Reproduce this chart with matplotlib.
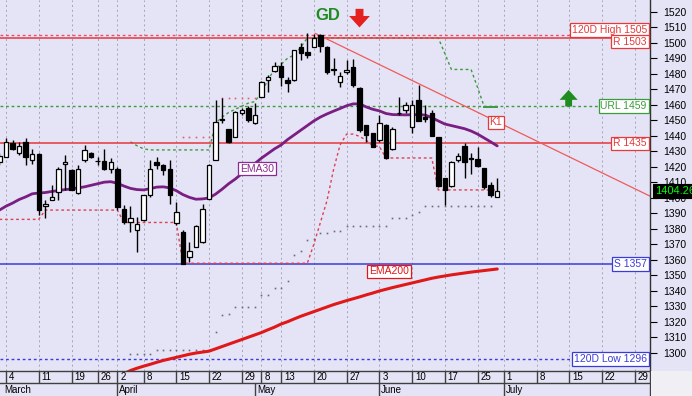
import matplotlib
matplotlib.use("Agg")
import matplotlib.pyplot as plt
import numpy as np
from matplotlib.transforms import blended_transform_factory
from matplotlib.patches import Rectangle

plt.rcParams['font.family'] = ['Liberation Sans', 'DejaVu Sans']

# ---------------- data ----------------
days = list(range(-1, 76))
opens = [1423, 1426.3, 1435, 1428.9, 1436, 1424.2, 1428.1, 1394.5, 1398.4, 1403.8,
         1421.7, 1417.7, 1402.7, 1424.2, 1428.5, 1423.8, 1423.6, 1418.2, 1418.4, 1393,
         1384.4, 1379.1, 1385.5, 1401.6, 1423.2, 1421, 1418.8, 1383.8, 1378, 1361.5,
         1368.4, 1371.5, 1399.4, 1424.2, 1450.2, 1444, 1439.2, 1454.5, 1457.7, 1447.9,
         1465.2, 1476, 1481.8, 1484.8, 1476, 1476, 1497.3, 1494, 1497.3, 1504.8,
         1497.3, 1482.9, 1474.7, 1481.1, 1484.4, 1471, 1446.7, 1441.4, 1437, 1446.7,
         1431.7, 1454.5, 1456.5, 1445.7, 1463, 1451.8, 1454.5, 1438.9, 1412.4, 1407.4,
         1424.2, 1433.3, 1425.4, 1424.7, 1418.9, 1408, 1400.6]
highs = [1429, 1438.2, 1437, 1436, 1438.2, 1431.7, 1429, 1398.4, 1408, 1419.8,
         1427.4, 1418.5, 1421, 1433.8, 1429.5, 1426.3, 1431.7, 1425.3, 1419.5, 1395.1,
         1394.5, 1387.7, 1402, 1424.2, 1426.3, 1422, 1424.2, 1397.3, 1379, 1371.5,
         1382.5, 1396.2, 1421.5, 1463, 1464.2, 1444.5, 1456, 1458, 1459.2, 1461,
         1475.5, 1479.2, 1487.7, 1487.7, 1478, 1495.5, 1499.5, 1506, 1505.8, 1505.8,
         1498, 1489.8, 1481.1, 1488.7, 1489.2, 1471.5, 1447, 1442, 1453.3, 1447.2,
         1445.6, 1465.2, 1462, 1463, 1472.7, 1459.7, 1456.5, 1439.2, 1413, 1423.5,
         1428.5, 1435, 1428.5, 1433, 1419.3, 1410.2, 1412.4]
lows = [1421, 1426, 1430.6, 1427.4, 1421, 1422, 1388.8, 1386.8, 1398.4, 1398.4,
        1404.8, 1404.8, 1402.3, 1423, 1425.5, 1421, 1417.7, 1416, 1391.9, 1383.3,
        1378, 1365, 1385, 1400.5, 1418.8, 1414.5, 1396.2, 1382.3, 1357, 1358.7,
        1368, 1370.5, 1399, 1424, 1448.2, 1435.5, 1439, 1453.5, 1448.9, 1447.5,
        1465, 1468.3, 1481.3, 1472, 1468.3, 1475.5, 1488.7, 1489.8, 1497, 1494,
        1479.6, 1479, 1471.5, 1480, 1471.5, 1442.4, 1436, 1432.5, 1436, 1425,
        1431, 1453.3, 1454.3, 1441.4, 1449.5, 1449, 1439.5, 1407, 1395.1, 1407,
        1423.2, 1412.4, 1415.5, 1419.9, 1405.9, 1400.5, 1400.5]
closes = [1427, 1435.9, 1431.7, 1433.4, 1426.3, 1427.9, 1391.9, 1396.2, 1400.5, 1418.4,
          1423, 1404.8, 1418.4, 1430.6, 1426.3, 1423.4, 1418.2, 1423.2, 1394.1, 1384.4,
          1386.6, 1383.3, 1401.6, 1418.4, 1421, 1417.7, 1401.6, 1390.9, 1357.5, 1365.7,
          1381.6, 1393, 1421, 1448.9, 1450, 1436, 1455.5, 1456.6, 1450, 1453.3,
          1474.7, 1478, 1484.8, 1477.7, 1473.8, 1495.2, 1493.5, 1492, 1502.7, 1497.7,
          1481.2, 1482.5, 1478.3, 1482.6, 1472.6, 1443.5, 1440.3, 1432.7, 1448.3, 1425.3,
          1444.6, 1454.3, 1459.7, 1459.7, 1449.7, 1450.7, 1439.7, 1407.4, 1404.8, 1423.1,
          1426.8, 1423.1, 1425.2, 1420.4, 1407, 1401.6, 1404.26]

ema30 = [1392, 1394.5, 1396.5, 1398.8, 1400.5, 1402.5, 1403, 1403.3, 1404, 1404.6,
         1405.2, 1405.6, 1406.3, 1407, 1408, 1409, 1410, 1410.3, 1409.3, 1407.5,
         1406, 1405.2, 1405, 1405.8, 1406.8, 1407, 1406.3, 1404.5, 1402, 1400.2,
         1399, 1399.2, 1399.8, 1402.3, 1405.5, 1409, 1412, 1415.5, 1419, 1422,
         1425.5, 1428.5, 1431.5, 1434, 1437.5, 1440.5, 1443.5, 1446.5, 1449.5, 1452,
         1454, 1455.8, 1457.5, 1459.3, 1460.5, 1460.5, 1458.5, 1457, 1456, 1454.3,
         1453.6, 1453.5, 1453.4, 1453.5, 1453.6, 1453.3, 1451.6, 1449.5, 1447.5, 1446.5,
         1445.5, 1444.5, 1443, 1441, 1438.5, 1436, 1433.4]

ema200_days = list(range(17, 76))
ema200 = [1285, 1286.5, 1288.5, 1290, 1291.3, 1292.5, 1293.8, 1295, 1296, 1297,
          1298, 1299, 1299.8, 1300.4, 1301, 1302.5, 1304, 1305.5, 1307, 1308.5,
          1310, 1311.5, 1313, 1314.8, 1316.5, 1318.5, 1320, 1321.8, 1323.5, 1325,
          1326.5, 1328, 1329.5, 1331, 1332.3, 1333.6, 1334.8, 1336, 1337.3, 1338.5,
          1339.8, 1340.9, 1342, 1343, 1344, 1345, 1346, 1347, 1348, 1348.8,
          1349.5, 1350.2, 1350.8, 1351.4, 1352, 1352.5, 1353, 1353.5, 1354]

# red trailing stop (k = -1 .. 75)
red_stop = ([1386] * 7 + [1392] * 12 + [1384] * 9 + [1357.7] * 20 +
            [1370, 1384, 1398, 1418, 1434, 1441, 1441, 1439.5, 1437, 1433.5, 1433] +
            [1425.6] * 8 + [1405] * 10)

# green trailing stop (k = 19 .. 75)
green_days = list(range(19, 76))
green_stop = ([1436, 1433.5, 1431.5] + [1430.8] * 10 +
              [1448, 1452, 1455, 1457, 1459, 1461, 1462, 1468, 1476, 1483, 1486, 1490,
               1492, 1497, 1503] + [1503] * 20 + [1493, 1482.7, 1482.7, 1482.7,
               1482.7, 1471, 1458.8, 1458.8, 1458.8])

# grey dotted channel (k = 19 .. 74)
grey_days = list(range(19, 75))
grey_dots = ([1299] * 4 + [1302] * 9 + [1313.5, 1324.3, 1325] + [1329.7] * 4 +
             [1337.2, 1337.2, 1341.5, 1341.5, 1346.3, 1363, 1365.3, 1372.7, 1373.5, 1377,
              1377.5, 1378.7, 1378.7] + [1381.9] * 7 + [1386.7] * 3 + [1388.5, 1390.6] +
             [1394.8] * 11)

pink_days = [27, 28, 29, 30, 31, 33, 34, 35, 36, 37, 38]
pink_dots = [1439.4, 1439.4, 1439.4, 1439.4, 1439.4, 1464.1, 1464.1, 1464.1, 1464.1, 1464.1, 1464.1]

k1_days = [47.2, 98.32]
k1_vals = [1506, 1401]

levels = {'high120': 1505, 'r1503': 1503, 'url': 1459, 'r1435': 1435,
          's1357': 1357, 'low120': 1296}
last_price = 1404.26

tick_pos = [0, 5, 10, 14, 17, 21, 26, 31, 36, 39, 42, 47, 52, 57, 62, 67, 72, 76, 81, 86, 91, 96]
tick_labels = ['4', '11', '19', '26', '2', '8', '15', '22', '29', '8', '13', '20', '27',
               '3', '10', '17', '25', '1', '8', '15', '22', '29']
month_pos = [-0.92, 17, 38, 57, 76]
month_labels = ['March', 'April', 'May', 'June', 'July']

# ---------------- figure ----------------
W, H = 692, 396
BG = '#E4E4F6'
fig = plt.figure(figsize=(W / 100, H / 100), dpi=100)
fig.patch.set_facecolor(BG)

ax = fig.add_axes([0, 25 / H, 650 / W, 371 / H])
ax.set_facecolor(BG)
XL = (-0.916, 98.32)
ax.set_xlim(*XL)
ax.set_ylim(1288.2, 1527.5)

for s in ['left', 'top', 'bottom']:
    ax.spines[s].set_visible(False)
ax.spines['right'].set_color('#303030')
ax.spines['right'].set_linewidth(1.0)

ax.yaxis.tick_right()
ax.set_yticks(np.arange(1300, 1521, 10))
ax.tick_params(axis='y', direction='out', length=5, width=0.8, pad=4.5,
               labelsize=7.5, colors='black')
ax.set_xticks(tick_pos)
ax.set_xticklabels([])
ax.tick_params(axis='x', length=0)
ax.grid(axis='x', color='#A4A4B4', lw=0.7, ls=(0, (2, 3)))
ax.set_axisbelow(True)

# horizontal levels
ax.axhline(levels['high120'], color='#E85060', lw=1.0, ls=(0, (2, 2)), zorder=2)
ax.axhline(levels['r1503'], color='#E5393B', lw=1.1, zorder=2)
ax.axhline(levels['url'], color='#3C9B3C', lw=1.0, ls=(0, (2, 2)), zorder=2)
ax.axhline(levels['r1435'], color='#E5393B', lw=1.1, zorder=2)
ax.axhline(levels['s1357'], color='#3B3BD9', lw=1.1, zorder=2)
ax.axhline(levels['low120'], color='#3B3BD9', lw=1.0, ls=(0, (2, 2)), zorder=2)

# trend line K1
ax.plot(k1_days, k1_vals, color='#F05A5A', lw=0.9, zorder=2)

# trailing stops / dotted channels
ax.plot(green_days, green_stop, color='#3C9B3C', lw=1.0, ls=(0, (2, 2)), zorder=1.5)
ax.plot(green_days[-3:], green_stop[-3:], color='#3C9B3C', lw=1.4, zorder=1.6)
ax.plot(days, red_stop, color='#E04050', lw=1.0, ls=(0, (2, 2)), zorder=2.5)
ax.plot(grey_days, grey_dots, ls='none', marker='s', ms=1.2, mew=0, color='#6A6A7A', zorder=2)
ax.plot(pink_days, pink_dots, ls='none', marker='s', ms=1.2, mew=0, color='#E06070', zorder=2)

# moving averages
ax.plot(days, ema30, color='#7A1E82', lw=2.0, zorder=3, solid_capstyle='round')
ax.plot(ema200_days, ema200, color='#E01818', lw=2.2, zorder=3, solid_capstyle='round')

# candles
o = np.array(opens); c = np.array(closes); hi = np.array(highs); lo = np.array(lows)
x = np.array(days)
ax.vlines(x, lo, hi, color='black', lw=1.0, zorder=4)
up = c >= o
bottoms = np.minimum(o, c)
heights = np.maximum(np.abs(c - o), 0.5)
ax.bar(x[up], heights[up], bottom=bottoms[up], width=0.68, color='white',
       edgecolor='black', lw=0.9, zorder=5)
ax.bar(x[~up], heights[~up], bottom=bottoms[~up], width=0.68, color='black',
       edgecolor='black', lw=0.9, zorder=5)

# level labels
trans = blended_transform_factory(ax.transAxes, ax.transData)

def level_label(text, y, color, dy=0):
    ax.annotate(text, xy=(0.995, y), xycoords=trans, xytext=(0, dy),
                textcoords='offset points', ha='right', va='center', fontsize=7.5,
                color=color, zorder=10,
                bbox=dict(boxstyle='square,pad=0.18', fc='white', ec=color, lw=0.9))

level_label('120D High 1505', levels['high120'], '#E5393B', dy=3.6)
level_label('R 1503', levels['r1503'], '#E5393B', dy=-2.6)
level_label('URL 1459', levels['url'], '#3C9B3C')
level_label('R 1435', levels['r1435'], '#E5393B')
level_label('S 1357', levels['s1357'], '#3B3BD9')
level_label('120D Low 1296', levels['low120'], '#3B3BD9')

def tag(text, xv, yv, color):
    ax.text(xv, yv, text, ha='center', va='center', fontsize=7.5, color=color, zorder=10,
            bbox=dict(boxstyle='square,pad=0.18', fc='white', ec=color, lw=0.9))

tag('K1', 74.8, 1448.5, '#E5393B')
tag('EMA30', 38.3, 1418.8, '#8A2A92')
tag('EMA200', 58.5, 1352.4, '#E01818')

# last price
ax.annotate(f'{last_price:.2f}', xy=(1.0, last_price), xycoords=trans, xytext=(4, 0),
            textcoords='offset points', ha='left', va='center', fontsize=8,
            color='#00FF00', zorder=11, annotation_clip=False,
            bbox=dict(boxstyle='square,pad=0.2', fc='black', ec='black', lw=0.8))

# signals
ax.text(49.1, 1517.2, 'GD', ha='center', va='center', fontsize=12, fontweight='bold',
        color='#1E8C1E', zorder=10)
arrow_style = 'simple,head_width=1.0,head_length=0.55,tail_width=0.38'
ax.annotate('', xy=(53.97, 1509.8), xytext=(53.97, 1521.8),
            arrowprops=dict(arrowstyle=arrow_style, mutation_scale=15,
                            color='#E52020', lw=0, shrinkA=0, shrinkB=0), zorder=10)
ax.annotate('', xy=(85.9, 1469.5), xytext=(85.9, 1458.8),
            arrowprops=dict(arrowstyle=arrow_style, mutation_scale=13,
                            color='#1E8C1E', lw=0, shrinkA=0, shrinkB=0), zorder=10)

# ---------------- date axis ----------------
axd = fig.add_axes([0, 0, 650 / W, 25 / H])
axd.set_xlim(*XL)
axd.set_ylim(0, 1)
axd.set_facecolor(BG)
axd.set_xticks([]); axd.set_yticks([])
for s in ['left', 'bottom']:
    axd.spines[s].set_visible(False)
for s in ['top', 'right']:
    axd.spines[s].set_color('#404040')
    axd.spines[s].set_linewidth(1.0)
axd.axhline(0.52, color='#404040', lw=1.0)
axd.vlines(tick_pos, 0.52, 1, color='#404040', lw=1.0)
axd.vlines(month_pos[1:], 0, 0.52, color='#404040', lw=1.0)
for p, lab in zip(tick_pos, tick_labels):
    axd.text(p + 0.45, 0.75, lab, ha='left', va='center', fontsize=7, color='black')
for p, lab in zip(month_pos, month_labels):
    axd.text(max(p, -0.6) + 0.3, 0.25, lab, ha='left', va='center', fontsize=7, color='black')

fig.patches.append(Rectangle((651 / W, 0), 41 / W, 25 / H, transform=fig.transFigure,
                             facecolor='#F0F0F4', edgecolor='none', zorder=0))

fig.savefig('out.png', dpi=100, facecolor=fig.get_facecolor())
